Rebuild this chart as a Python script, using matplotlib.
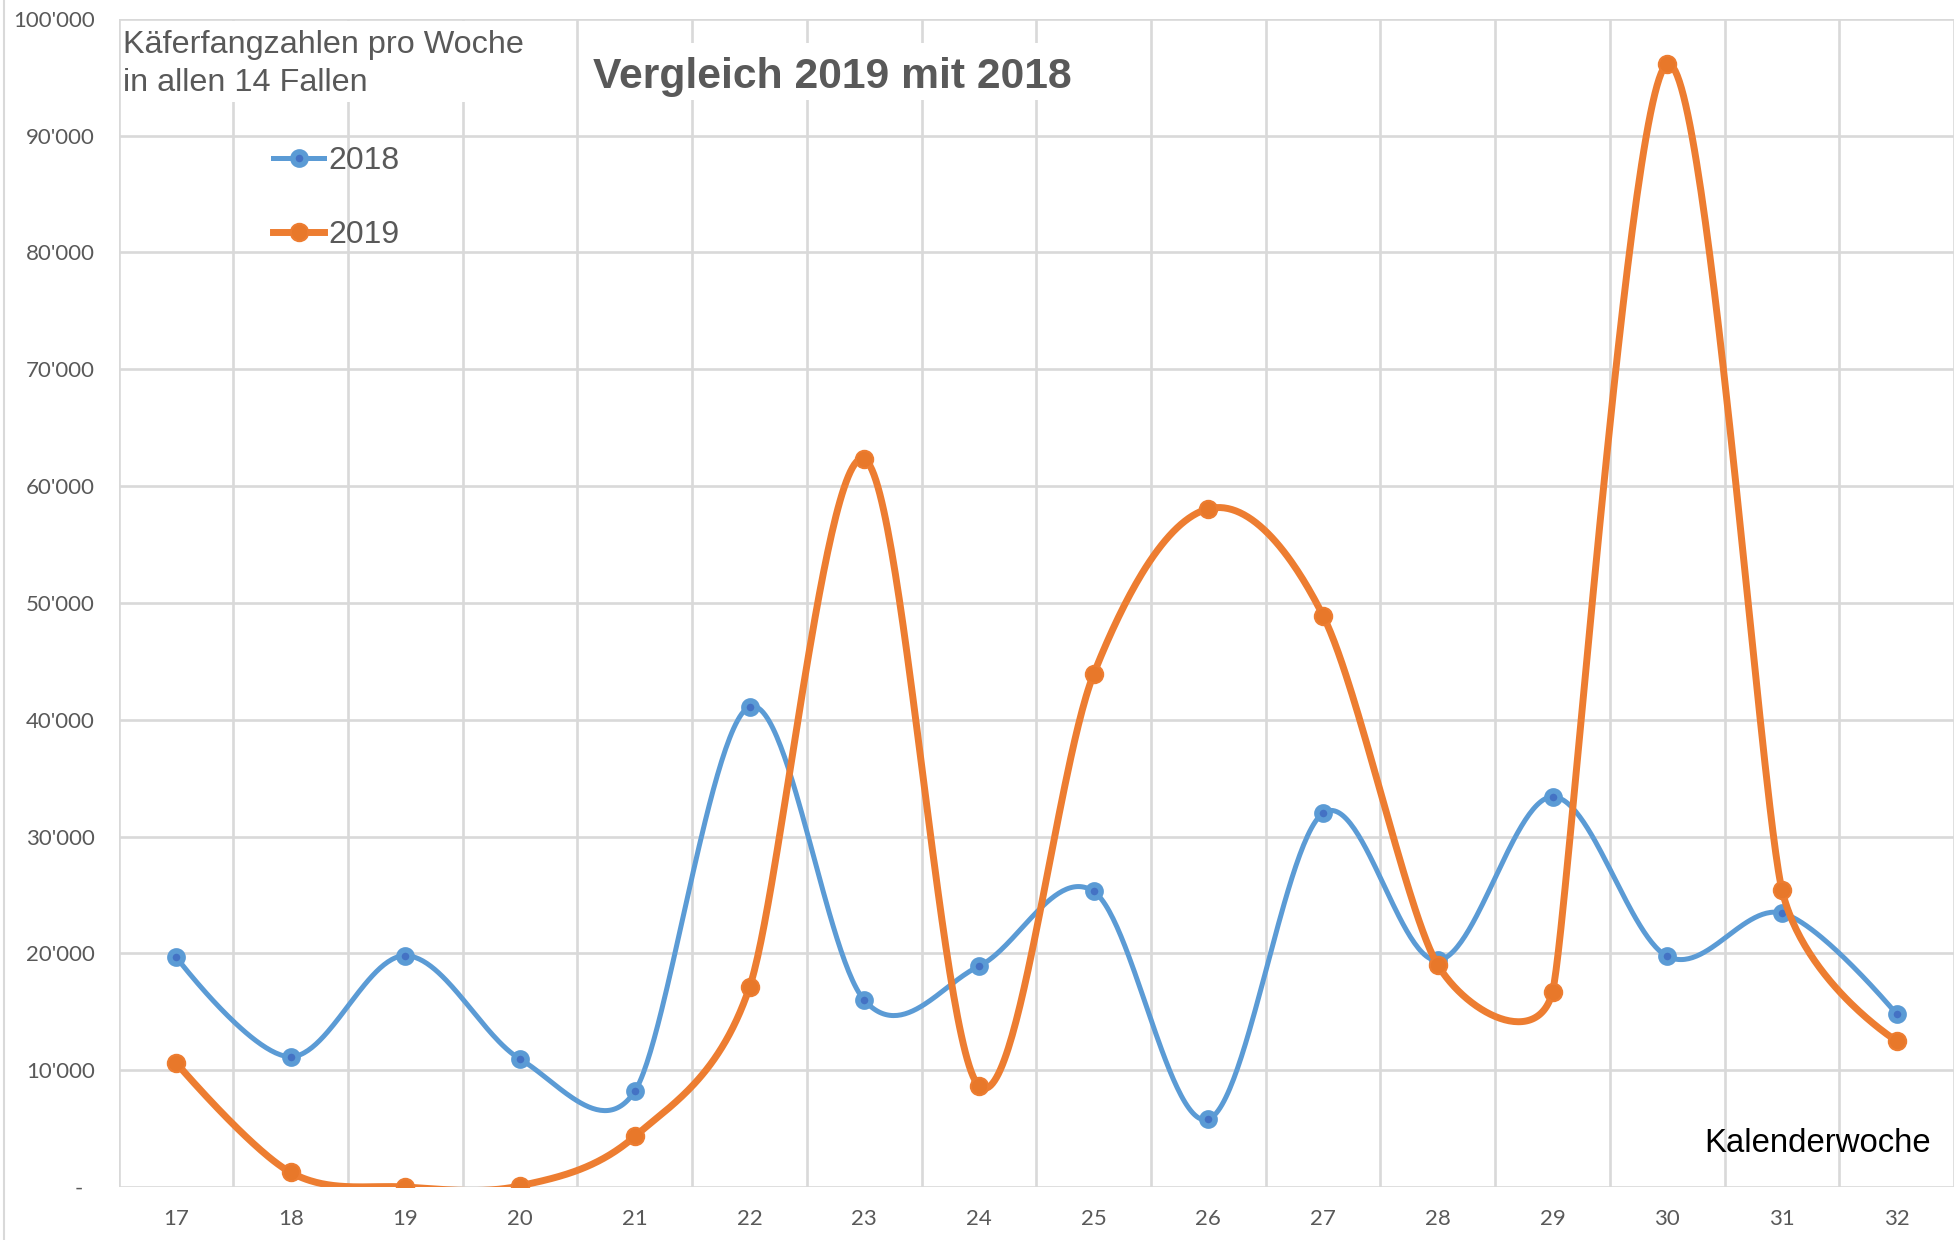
import numpy as np
import matplotlib
matplotlib.use("Agg")
import matplotlib.pyplot as plt
from matplotlib.lines import Line2D
from matplotlib.patches import Rectangle

plt.rcParams['font.family'] = ['Liberation Sans', 'DejaVu Sans']

# ---------------- data ----------------
weeks = [17, 18, 19, 20, 21, 22, 23, 24, 25, 26, 27, 28, 29, 30, 31, 32]
catches_2018 = [19700, 11150, 19800, 10950, 8200, 41100, 16000, 18900,
                25300, 5800, 32000, 19400, 33400, 19750, 23450, 14800]
catches_2019 = [10650, 1250, 0, 100, 4330, 17100, 62300, 8650,
                43900, 58050, 48900, 19000, 16700, 96100, 25450, 12500]
series_names = ["2018", "2019"]
y_ticks = list(range(0, 100001, 10000))
title = "Vergleich 2019 mit 2018"
note = "Käferfangzahlen pro Woche\nin allen 14 Fallen"
x_label = "Kalenderwoche"

# ---------------- style ----------------
W, H = 1957, 1240
GRID = "#D9D9D9"
TXT = "#595959"
BLUE = "#5B9BD5"
BLUE_DARK = "#4472C4"
ORANGE = "#ED7D31"
ORANGE_DARK = "#E8782A"

AX_L, AX_R, AX_T, AX_B = 118.6, 1954.0, 18.7, 1187.0


def smooth(xs, ys, n=60):
    """Excel-like smoothed line: Bezier with arm length d02/6, capped at
    half of the shorter neighbouring chord (measured in screen pixels)."""
    x = np.asarray(xs, float)
    y = np.asarray(ys, float)
    sx = (AX_R - AX_L) / (x[-1] - x[0] + 1.0)
    sy = (AX_B - AX_T) / (y_ticks[-1] - y_ticks[0])
    P = np.column_stack([x * sx, y * sy])
    m = len(P)
    arms = np.zeros_like(P)
    for i in range(1, m - 1):
        T = P[i + 1] - P[i - 1]
        d02 = np.hypot(*T)
        d01 = np.hypot(*(P[i] - P[i - 1]))
        d12 = np.hypot(*(P[i + 1] - P[i]))
        f = 1.0 / 6.0
        if d02 > 0 and (d02 * f > d01 / 2 or d02 * f > d12 / 2):
            f = min(d01, d12) / (2 * d02)
        arms[i] = T * f
    out = []
    t = np.linspace(0, 1, n)[:, None]
    for i in range(m - 1):
        p0 = P[i]
        p3 = P[i + 1]
        c1 = p0 + arms[i]
        c2 = p3 - arms[i + 1]
        seg = ((1 - t) ** 3) * p0 + 3 * ((1 - t) ** 2) * t * c1 + 3 * (1 - t) * t ** 2 * c2 + t ** 3 * p3
        out.append(seg if i == 0 else seg[1:])
    c = np.vstack(out)
    return c[:, 0] / sx, c[:, 1] / sy


fig = plt.figure(figsize=(W / 100, H / 100), dpi=100)
ax = fig.add_axes([AX_L / W, 1 - AX_B / H, (AX_R - AX_L) / W, (AX_B - AX_T) / H])

ax.set_xlim(weeks[0] - 0.5, weeks[-1] + 0.5)
ax.set_ylim(y_ticks[0], y_ticks[-1])

# grid
ax.set_xticks(weeks)
ax.set_xticks(np.arange(weeks[0] - 0.5, weeks[-1] + 0.51, 1.0), minor=True)
ax.set_yticks(y_ticks)
ax.grid(True, which='minor', axis='x', color=GRID, lw=1.9, zorder=0)
ax.grid(True, which='major', axis='y', color=GRID, lw=1.9, zorder=0)
ax.grid(False, which='major', axis='x')
for s in ax.spines.values():
    s.set_visible(False)
ax.tick_params(axis='both', which='both', length=0)
ax.tick_params(axis='x', pad=16)
ax.tick_params(axis='y', pad=17)

ylabels = ["-  " if v == 0 else f"{v:,}".replace(",", "'") for v in y_ticks]
ax.set_yticklabels(ylabels, fontfamily=['Lato', 'DejaVu Sans'], fontsize=16, color=TXT)
ax.set_xticklabels([str(w) for w in weeks], fontfamily=['Lato', 'DejaVu Sans'], fontsize=16, color=TXT)

# series
B_LW, O_LW = 3.6, 5.0
B_MK = dict(marker='o', ms=9.5, mfc=BLUE_DARK, mec=BLUE, mew=4.0)
O_MK = dict(marker='o', ms=12.5, mfc=ORANGE_DARK, mec=ORANGE, mew=1.5)

xs, ys = smooth(weeks, catches_2018)
ax.plot(xs, ys, color=BLUE, lw=B_LW, solid_capstyle='round', solid_joinstyle='round', zorder=3)
ax.plot(weeks, catches_2018, ls='none', zorder=4, **B_MK)

xs, ys = smooth(weeks, catches_2019)
ax.plot(xs, ys, color=ORANGE, lw=O_LW, solid_capstyle='round', solid_joinstyle='round', zorder=5)
ax.plot(weeks, catches_2019, ls='none', zorder=6, **O_MK)

# legend (no frame)
handles = [
    Line2D([], [], color=BLUE, lw=B_LW, **B_MK),
    Line2D([], [], color=ORANGE, lw=O_LW, **O_MK),
]
leg = fig.legend(handles, series_names, loc='upper left', bbox_to_anchor=(273 / W, 1 - 146 / H),
                 frameon=False, fontsize=23, handlelength=1.6, handletextpad=0.12,
                 labelspacing=1.37, borderpad=0, borderaxespad=0)
for t in leg.get_texts():
    t.set_color(TXT)

# white boxes behind note and title
fig.patches.append(Rectangle((121 / W, 1 - 102 / H), (545 - 121) / W, (102 - 21) / H,
                             transform=fig.transFigure, facecolor='white', edgecolor='none', zorder=1))
fig.patches.append(Rectangle((588 / W, 1 - 100 / H), (1142 - 588) / W, (100 - 43) / H,
                             transform=fig.transFigure, facecolor='white', edgecolor='none', zorder=1))

fig.text(123 / W, 1 - 64 / H, note, fontsize=23.3, color=TXT, ha='left', va='center',
         linespacing=1.33, zorder=3)
fig.text(832 / W, 1 - 77 / H, title, fontsize=30.7, weight='bold', color=TXT,
         ha='center', va='center', zorder=3)
fig.text(1931 / W, 1 - 1143 / H, x_label, fontsize=23.7, color='black', ha='right', va='center')

# thin chart border on the left
fig.add_artist(Line2D([4 / W, 4 / W], [0, 1], transform=fig.transFigure, color=GRID, lw=1.5))

fig.savefig("out.png", dpi=100, facecolor='white')
